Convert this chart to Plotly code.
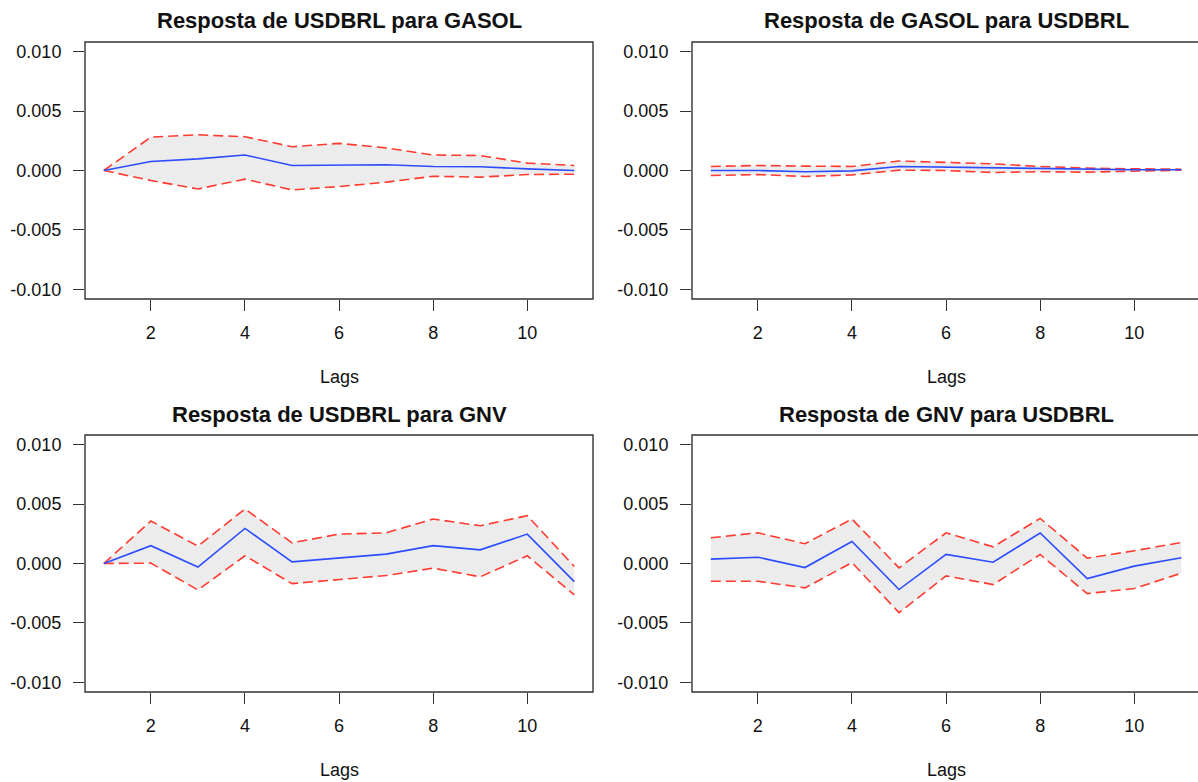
import plotly.graph_objects as go

lags = [1, 2, 3, 4, 5, 6, 7, 8, 9, 10, 11]

titles = [
    "Resposta de USDBRL para GASOL",
    "Resposta de GASOL para USDBRL",
    "Resposta de USDBRL para GNV",
    "Resposta de GNV para USDBRL",
]

irf_usdbrl_gasol = [0.0, 0.00076, 0.00098, 0.0013, 0.00042, 0.00042, 0.00048, 0.00034, 0.00031, 0.00014, 0.0]
upper_usdbrl_gasol = [0.0, 0.0028, 0.0030, 0.00284, 0.0020, 0.00228, 0.0019, 0.0013, 0.00126, 0.00062, 0.00042]
lower_usdbrl_gasol = [0.0, -0.00084, -0.00155, -0.00073, -0.00163, -0.00135, -0.00098, -0.00048, -0.00056, -0.00034, -0.00031]

irf_gasol_usdbrl = [0.0, 0.0, -0.0001, -0.00003, 0.00034, 0.00028, 0.00022, 0.00014, 0.0001, 0.00006, 0.00006]
upper_gasol_usdbrl = [0.00034, 0.00042, 0.00037, 0.00034, 0.0008, 0.0007, 0.00056, 0.00034, 0.0002, 0.00014, 0.00011]
lower_gasol_usdbrl = [-0.00042, -0.00034, -0.0005, -0.00037, 0.00003, 0.0, -0.00017, -0.0001, -0.00014, -0.00006, 0.00003]

irf_usdbrl_gnv = [0.0, 0.0015, -0.0003, 0.00295, 0.00014, 0.00048, 0.00079, 0.0015, 0.00115, 0.00247, -0.00152]
upper_usdbrl_gnv = [0.0, 0.00357, 0.00146, 0.00458, 0.00174, 0.00247, 0.00258, 0.00374, 0.00317, 0.00402, -0.00025]
lower_usdbrl_gnv = [0.0, 0.00003, -0.00222, 0.00065, -0.00169, -0.00135, -0.00101, -0.00039, -0.00112, 0.00065, -0.00264]

irf_gnv_usdbrl = [0.00037, 0.00053, -0.00034, 0.00185, -0.00219, 0.00076, 0.00011, 0.00256, -0.00126, -0.00022, 0.00048]
upper_gnv_usdbrl = [0.00216, 0.00258, 0.00166, 0.00374, -0.00037, 0.00258, 0.0014, 0.00379, 0.00045, 0.00107, 0.00177]
lower_gnv_usdbrl = [-0.00149, -0.00149, -0.00205, 0.00008, -0.00413, -0.00104, -0.00177, 0.00076, -0.00253, -0.0021, -0.00081]

y_ticks = [-0.010, -0.005, 0.0, 0.005, 0.010]
y_ticklabels = ["-0.010", "-0.005", "0.000", "0.005", "0.010"]
x_ticks = [2, 4, 6, 8, 10]
x_ticklabels = ["2", "4", "6", "8", "10"]
x_title = "Lags"

panels = [
    (irf_usdbrl_gasol, upper_usdbrl_gasol, lower_usdbrl_gasol),
    (irf_gasol_usdbrl, upper_gasol_usdbrl, lower_gasol_usdbrl),
    (irf_usdbrl_gnv, upper_usdbrl_gnv, lower_usdbrl_gnv),
    (irf_gnv_usdbrl, upper_gnv_usdbrl, lower_gnv_usdbrl),
]

W, H = 1198, 782
FONT = "Liberation Sans, Arial, sans-serif"
BLUE = "#2b4cff"
RED = "#ff3b30"
FILL = "#ececec"
AX = "#333333"

# pixel boxes (left, right, top, bottom)
boxes = [
    (85, 593, 42, 299),
    (692, 1198, 42, 299),
    (85, 593, 435, 692),
    (692, 1198, 435, 692),
]
px_per_lag = 47.05

fig = go.Figure()
for i, ((irf, up, lo), (l, r, t, b)) in enumerate(zip(panels, boxes)):
    n = i + 1
    xa = "x" if n == 1 else f"x{n}"
    ya = "y" if n == 1 else f"y{n}"
    fig.add_trace(go.Scatter(x=lags, y=lo, mode="lines", line=dict(width=0),
                             xaxis=xa, yaxis=ya, showlegend=False, hoverinfo="skip"))
    fig.add_trace(go.Scatter(x=lags, y=up, mode="lines", line=dict(width=0),
                             fill="tonexty", fillcolor=FILL,
                             xaxis=xa, yaxis=ya, showlegend=False, hoverinfo="skip"))
    fig.add_trace(go.Scatter(x=lags, y=up, mode="lines",
                             line=dict(color=RED, width=1.6, dash="10px,5px"),
                             xaxis=xa, yaxis=ya, showlegend=False))
    fig.add_trace(go.Scatter(x=lags, y=lo, mode="lines",
                             line=dict(color=RED, width=1.6, dash="10px,5px"),
                             xaxis=xa, yaxis=ya, showlegend=False))
    fig.add_trace(go.Scatter(x=lags, y=irf, mode="lines",
                             line=dict(color=BLUE, width=1.6),
                             xaxis=xa, yaxis=ya, showlegend=False))

    xmax = 0.6 + (r - l) / px_per_lag
    axis_common = dict(showgrid=False, zeroline=False, showline=False,
                       ticks="outside", ticklen=11, tickwidth=1.3, tickcolor=AX,
                       tickfont=dict(family=FONT, size=18, color="#111111"))
    fig.layout[f"xaxis{'' if n == 1 else n}"] = dict(
        domain=[l / W, r / W], range=[0.6, xmax], anchor=ya,
        tickvals=x_ticks, ticktext=x_ticklabels, ticklabelstandoff=6, **axis_common)
    fig.layout[f"yaxis{'' if n == 1 else n}"] = dict(
        domain=[(H - b) / H, (H - t) / H], range=[-0.0108, 0.0108], anchor=xa,
        tickvals=y_ticks, ticktext=y_ticklabels, ticklabelstandoff=8, **axis_common)

    right_px = r if r < W else 1201
    fig.add_shape(type="rect", xref="paper", yref="paper",
                  x0=l / W, x1=right_px / W, y0=(H - b) / H, y1=(H - t) / H,
                  line=dict(color=AX, width=1.4), layer="above")

    fig.add_annotation(text=f"<b>{titles[i]}</b>", xref="paper", yref="paper",
                       x=(l + (l + (593 - 85))) / 2 / W, y=(H - (t - 21)) / H,
                       xanchor="center", yanchor="middle", showarrow=False,
                       font=dict(family=FONT, size=22, color="#111111"))
    fig.add_annotation(text=x_title, xref="paper", yref="paper",
                       x=(l + (l + (593 - 85))) / 2 / W, y=(H - (b + 78)) / H,
                       xanchor="center", yanchor="middle", showarrow=False,
                       font=dict(family=FONT, size=18, color="#111111"))

fig.update_layout(width=W, height=H, margin=dict(l=0, r=0, t=0, b=0),
                  plot_bgcolor="white", paper_bgcolor="white")

fig.write_html("out.html", config={"displayModeBar": False},
               post_script="document.body.style.margin='0';document.body.style.overflow='hidden';")
